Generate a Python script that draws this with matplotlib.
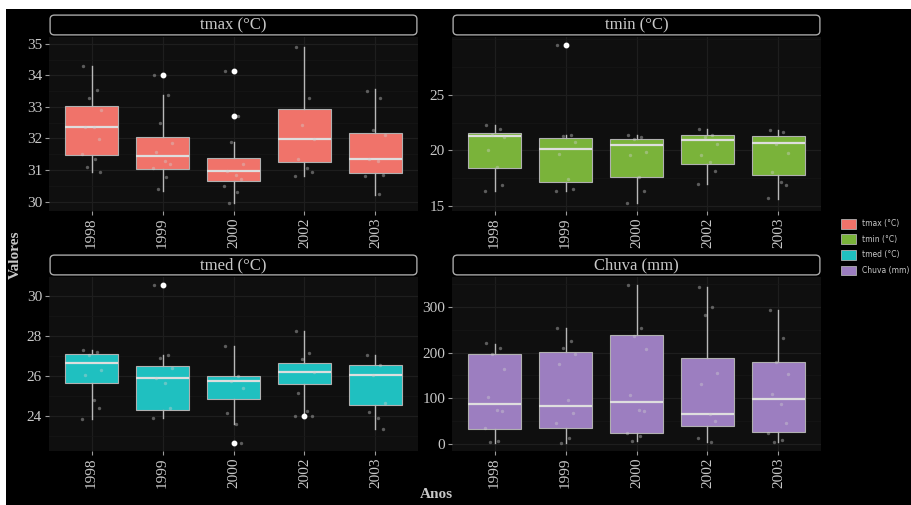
import matplotlib
matplotlib.use("Agg")
import matplotlib.pyplot as plt
import numpy as np
from matplotlib.patches import Rectangle, FancyBboxPatch, Patch
from matplotlib.ticker import MultipleLocator

plt.rcParams['font.family'] = ['Liberation Serif', 'DejaVu Serif']

years = ["1998", "1999", "2000", "2002", "2003"]
panel_titles = ["tmax (°C)", "tmin (°C)", "tmed (°C)", "Chuva (mm)"]
panel_colors = ["#F0736A", "#7AB33A", "#1FC0C0", "#9C7EC0"]

# box statistics per year: (whislo, q1, median, q3, whishi)
tmax_box = [(30.95, 31.47, 32.35, 33.02, 34.29),
            (30.35, 31.02, 31.44, 32.05, 33.37),
            (29.95, 30.65, 30.97, 31.39, 31.90),
            (30.82, 31.27, 31.97, 32.94, 34.90),
            (30.20, 30.89, 31.34, 32.16, 33.58)]
tmax_out = [[], [34.0], [34.14, 32.72], [], []]
tmax_pts = [[34.29, 33.55, 33.3, 32.9, 32.35, 32.35, 31.97, 31.5, 31.35, 31.1, 30.95],
            [34.0, 33.37, 32.5, 31.85, 31.58, 31.3, 31.2, 31.05, 30.77, 30.4],
            [34.14, 32.72, 31.9, 31.2, 30.97, 30.85, 30.7, 30.5, 30.3, 29.95],
            [34.9, 33.3, 32.42, 31.97, 31.35, 31.05, 30.95, 30.82],
            [33.5, 33.3, 32.27, 32.1, 31.34, 31.3, 30.85, 30.8, 30.25]]

tmin_box = [(16.40, 18.44, 21.26, 21.56, 22.25),
            (16.40, 17.19, 20.09, 21.14, 21.35),
            (15.27, 17.60, 20.45, 20.99, 21.35),
            (17.00, 18.74, 20.90, 21.38, 21.95),
            (15.66, 17.84, 20.69, 21.26, 21.80)]
tmin_out = [[], [29.5], [], [], []]
tmin_pts = [[22.25, 21.95, 21.35, 21.2, 20.0, 18.5, 16.86, 16.4],
            [29.5, 21.35, 21.26, 20.75, 19.7, 17.45, 16.55, 16.4],
            [21.35, 21.2, 21.05, 19.85, 19.6, 17.6, 16.4, 15.27],
            [21.95, 21.35, 21.2, 20.54, 19.55, 18.95, 18.2, 17.0],
            [21.8, 21.65, 20.6, 19.76, 18.05, 17.16, 16.86, 15.7]]

tmed_box = [(23.85, 25.67, 26.63, 27.12, 27.29),
            (23.93, 24.33, 25.92, 26.50, 27.04),
            (23.60, 24.88, 25.75, 26.00, 27.49),
            (24.13, 25.59, 26.20, 26.64, 28.23),
            (23.36, 24.55, 26.08, 26.58, 27.07)]
tmed_out = [[], [30.55], [22.66], [24.02], []]
tmed_pts = [[27.29, 27.19, 27.07, 26.33, 26.08, 24.8, 24.43, 23.85],
            [30.55, 27.04, 26.9, 26.41, 25.92, 25.67, 24.43, 23.93],
            [27.49, 26.0, 25.75, 25.42, 24.18, 23.6, 22.66],
            [28.23, 27.16, 26.83, 26.2, 25.17, 24.26, 24.02, 24.02],
            [27.07, 26.58, 26.08, 24.68, 24.23, 23.93, 23.36]]

chuva_box = [(2, 33, 88, 197, 220),
             (2, 35, 82, 201, 254),
             (7, 23, 91, 238, 349),
             (4, 39, 66, 188, 345),
             (4, 26, 99, 179, 294)]
chuva_out = [[], [], [], [], []]
chuva_pts = [[221, 210, 196, 165, 102, 75, 72, 35, 7, 4],
             [255, 226, 210, 197, 175, 95, 68, 46, 13, 2],
             [349, 254, 237, 207, 108, 73, 72, 24, 17, 7],
             [343, 300, 282, 155, 130, 66, 50, 13, 4],
             [294, 232, 179, 153, 110, 88, 46, 24, 9, 4]]

boxes = [tmax_box, tmin_box, tmed_box, chuva_box]
outs = [tmax_out, tmin_out, tmed_out, chuva_out]
pts = [tmax_pts, tmin_pts, tmed_pts, chuva_pts]
ylims = [(29.70, 35.22), (14.56, 30.2), (22.27, 30.94), (-16, 366)]
yticks = [[30, 31, 32, 33, 34, 35], [15, 20, 25], [24, 26, 28, 30], [0, 100, 200, 300]]
minor_steps = [0.5, 2.5, 1.0, 50]

jitter = [-0.12, 0.07, -0.04, 0.13, -0.09, 0.03, 0.11, -0.14, 0.05, -0.06, 0.12, -0.01]

W, H = 911, 505
fig = plt.figure(figsize=(W / 100, H / 100), dpi=100, facecolor="white")
fig.add_artist(Rectangle((6 / W, 0), 1 - 6 / W, 1 - 9 / H, transform=fig.transFigure,
                         facecolor="black", edgecolor="none", zorder=-10))

lefts = [49, 452, 49, 452]
tops = [37, 37, 277, 277]
pw, ph = 369, 174
txtc = "#c8c8c8"

for i in range(4):
    L, T = lefts[i], tops[i]
    ax = fig.add_axes([L / W, 1 - (T + ph) / H, pw / W, ph / H])
    ax.set_facecolor("#0f0f0f")
    for s in ax.spines.values():
        s.set_visible(False)
    stats = []
    for j, b in enumerate(boxes[i]):
        stats.append(dict(whislo=b[0], q1=b[1], med=b[2], q3=b[3], whishi=b[4],
                          fliers=outs[i][j]))
    pos = np.arange(len(years))
    ax.bxp(stats, positions=pos, widths=0.75, patch_artist=True, showcaps=False,
           boxprops=dict(facecolor=panel_colors[i], edgecolor="#b0b0b0", linewidth=0.8),
           medianprops=dict(color="#dedede", linewidth=1.6),
           whiskerprops=dict(color="#b8b8b8", linewidth=1.0),
           flierprops=dict(marker="o", markerfacecolor="white", markeredgecolor="white",
                           markersize=3.2))
    for j, vals in enumerate(pts[i]):
        xs = [pos[j] + jitter[k % len(jitter)] for k in range(len(vals))]
        ax.scatter(xs, vals, s=6, color="#d0d0d0", alpha=0.4, linewidths=0, zorder=5)
    ax.set_xlim(-0.6, 4.6)
    ax.set_ylim(*ylims[i])
    ax.set_xticks(pos)
    ax.set_xticklabels(years, rotation=90, fontsize=11, color=txtc)
    ax.set_yticks(yticks[i])
    ax.set_yticklabels([str(v) for v in yticks[i]], fontsize=11, color=txtc)
    ax.yaxis.set_minor_locator(MultipleLocator(minor_steps[i]))
    ax.tick_params(axis="both", which="major", length=3, color="#9a9a9a", pad=2)
    ax.tick_params(axis="y", which="minor", length=0)
    ax.grid(True, which="major", color="#1e1e1e", linewidth=0.9)
    ax.grid(True, which="minor", axis="y", color="#171717", linewidth=0.5)
    ax.set_axisbelow(True)

    # strip
    sax = fig.add_axes([L / W, 1 - (T - 1) / H, pw / W, 22 / H])
    sax.set_axis_off()
    sax.add_patch(FancyBboxPatch((0.003, 0.05), 0.994, 0.9,
                                 boxstyle="round,pad=0,rounding_size=0.012",
                                 transform=sax.transAxes, facecolor="black",
                                 edgecolor="#a8a8a8", linewidth=1.0, mutation_aspect=15))
    sax.text(0.5, 0.5, panel_titles[i], ha="center", va="center", fontsize=12,
             color=txtc, transform=sax.transAxes)

fig.text(15 / W, 1 - 255 / H, "Valores", rotation=90, ha="center", va="center",
         fontsize=11, fontweight="bold", color=txtc)
fig.text(436 / W, 1 - 494 / H, "Anos", ha="center", va="center",
         fontsize=11, fontweight="bold", color=txtc)

handles = [Patch(facecolor=c, edgecolor="#b0b0b0", linewidth=0.6) for c in panel_colors]
leg = fig.legend(handles, panel_titles, loc="upper left",
                 bbox_to_anchor=(834 / W, 1 - 212 / H), frameon=False,
                 prop=dict(family="DejaVu Sans", size=5.5), labelcolor=txtc,
                 handlelength=2.0, handleheight=1.6, labelspacing=0.75, handletextpad=0.8)

fig.savefig("out.png", dpi=100, facecolor=fig.get_facecolor())
